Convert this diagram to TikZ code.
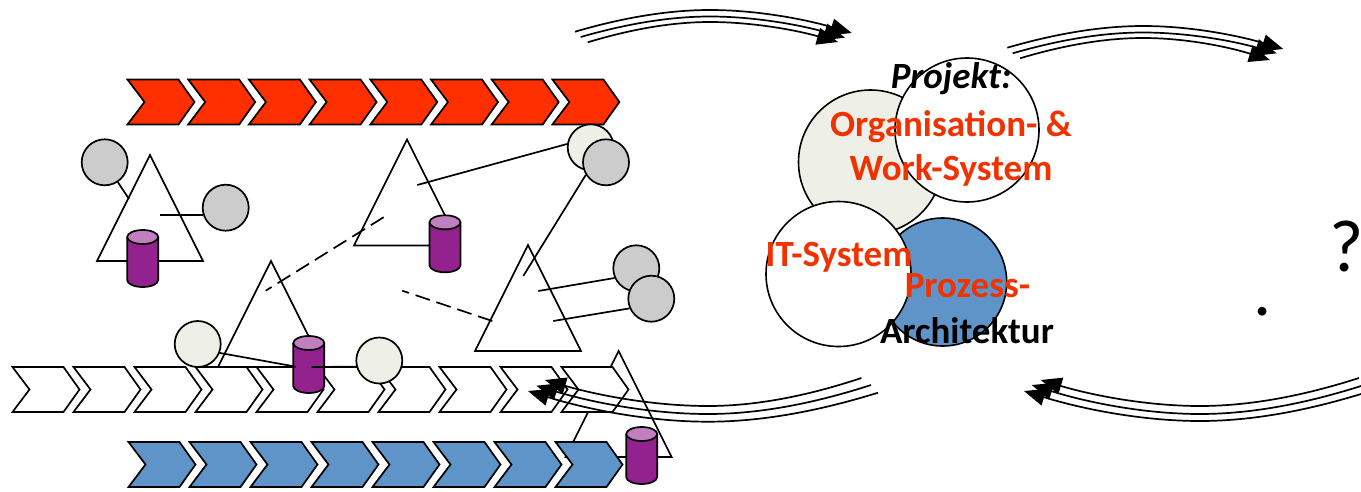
\documentclass[tikz,border=0pt]{standalone}
\usepackage{fontspec}
\setmainfont[Ligatures=Common]{Carlito}
\usetikzlibrary{calc,arrows.meta}
\definecolor{cRed}{HTML}{FF2F00}
\definecolor{cTxt}{HTML}{F03200}
\definecolor{cBlue}{HTML}{5F94C8}
\definecolor{cBeige}{HTML}{EEEFE6}
\definecolor{cGrey}{HTML}{CCCCCC}
\definecolor{cPurple}{HTML}{93218E}
\definecolor{cPurpleTop}{HTML}{C080C0}
\tikzset{
  lw/.style={line width=1.7pt},
  chev/.style={lw,draw=black,miter limit=10},
  tri/.style={lw,draw=black,line join=miter},
  conn/.style={lw,draw=black},
  dashconn/.style={lw,draw=black,dash pattern=on 15pt off 7pt,dash phase=8pt},
  small/.style={circle,lw,draw=black,inner sep=0pt,minimum size=46pt},
  big/.style={circle,line width=1.6pt,draw=black,inner sep=0pt},
  flow/.style={line width=1.7pt,draw=black,-{Triangle[length=21pt,width=17pt]}},
  bold/.style={font=\bfseries\fontsize{37}{40}\selectfont,inner sep=0pt,anchor=base},
}
\newcommand{\trishape}[2]{\draw[tri] (#1,#2) -- ++(-53,106) -- ++(106,0) -- cycle;}
\newcommand{\canshape}[3]{% name, centre x, top y
  \coordinate (#1) at (#2,#3);
  \draw[lw,fill=cPurple] ($(#1)+(-15.5,7)$) -- ++(0,43)
    arc[start angle=180,end angle=360,x radius=15.5pt,y radius=7pt] -- ++(0,-43);
  \draw[lw,fill=cPurpleTop] ($(#1)+(0,7)$) ellipse [x radius=15.5pt,y radius=7pt];}
\newcommand{\chevrow}[5]{% x0, y, pitch, count-1, fill
  \foreach \i in {0,...,#4}{
    \draw[chev,fill=#5] ({#1+\i*#3},#2) -- ++(51,0) -- ++(16,22.5) -- ++(-16,22.5)
      -- ++(-51,0) -- ++(17,-22.5) -- cycle;
  }}
\newcommand{\flowline}[4]{%
  \coordinate (#1s) at (#2);\coordinate (#1m) at (#3);\coordinate (#1e) at (#4);
  \draw[flow] (#1s) .. controls ($.4*(#1s)+.33*(#1m)+.27*(#1s|-#1m)$) and ($(#1m)!.33!(#1s|-#1m)$) .. (#1m)
    .. controls ($(#1m)!.33!(#1e|-#1m)$) and ($.4*(#1e)+.33*(#1m)+.27*(#1e|-#1m)$) .. (#1e);}
\begin{document}
\begin{tikzpicture}[x=1pt,y=-1pt]
\useasboundingbox (0,0) rectangle (1361,491);
% triangles
\trishape{150}{155}
\trishape{407}{139.5}
\trishape{271}{261}
\trishape{528}{245}
\trishape{618.6}{351}
% chevron rows
\chevrow{12.5}{367}{61}{9}{white}
\chevrow{128.5}{442}{61}{7}{cBlue}
\chevrow{127.5}{79.5}{60.7}{7}{cRed}
% cans
\canshape{can1}{142.7}{230}
\canshape{can2}{445}{215.3}
\canshape{can3}{308.8}{336}
\canshape{can4}{641.7}{427}
% small circles
\node[small,fill=cGrey] (g1) at (104.7,162.3) {};
\node[small,fill=cGrey] (g2) at (225.7,207.7) {};
\node[small,fill=cBeige] (b3) at (590.7,147.3) {};
\node[small,fill=cGrey] (g4) at (606,162.3) {};
\node[small,fill=cGrey] (g5) at (636.3,268.3) {};
\node[small,fill=cGrey] (g6) at (651.3,298.7) {};
\node[small,fill=cBeige] (b7) at (197.7,344) {};
\node[small,fill=cBeige] (b8) at (379.3,360.5) {};
% free ends
\coordinate (e1) at (129,199);
\coordinate (e2) at (160,215);
\coordinate (e3) at (417.3,185);
\coordinate (e4) at (523.3,276);
\coordinate (e5) at (538.3,291);
\coordinate (e6) at (553.3,321);
\coordinate (e7) at (296,366.7);
\coordinate (e8) at (311.7,367);
\coordinate (d1a) at (265.7,290.7);
\coordinate (d1b) at (386.7,215.3);
\coordinate (d2a) at (402.3,290.7);
\coordinate (d2b) at (492.3,321);
% connectors
\draw[conn] (g1) -- (e1);
\draw[conn] (e2) -- (g2.198);
\draw[conn] (e3) -- (b3.172);
\draw[conn] (e4) -- (g4.212);
\draw[conn] (e5) -- (g5.204);
\draw[conn] (e6) -- (g6.204);
\draw[conn] (b7.-22) -- (e7);
\draw[conn] (e8) -- (b8.195);
\draw[dashconn] (d1a) -- (d1b);
\draw[dashconn] (d2a) -- (d2b);
% big circles
\node[big,fill=cBeige,minimum size=144pt] (orga) at (870.5,162) {};
\node[big,fill=white,minimum size=144pt] (work) at (967,130) {};
\node[big,fill=cBlue,minimum size=128pt] (proz) at (942.7,282) {};
\node[big,fill=white,minimum size=145pt] (itsy) at (838.5,274) {};
% flow arrows
\flowline{a}{575,31.7}{710,10}{851.7,33}
\flowline{b}{580.7,37}{710,16.5}{845,37.7}
\flowline{c}{587.7,42.3}{710,22}{838,42}
\flowline{d}{1007.3,47.7}{1143.3,26}{1283.3,49}
\flowline{f}{1012.7,53.3}{1143.3,32.5}{1276.7,53.3}
\flowline{g}{1020,58.3}{1143.3,38}{1270,60}
\flowline{h}{861.4,378}{708,406}{545,380}
\flowline{i}{871,385}{708,414}{536.4,385.7}
\flowline{j}{878,392.7}{708,421.7}{528,391}
\flowline{k}{1359,378}{1200,406}{1040.7,380}
\flowline{l}{1361,386}{1200,414}{1031.7,385}
\flowline{m}{1361,394}{1200,421}{1024,391}
% labels
\node[bold,font=\bfseries\itshape\fontsize{37}{40}\selectfont,text=black] (tp) at (951,88) {Projekt:};
\node[bold,text=cTxt] (t1) at (951,136) {Organisation- \&};
\node[bold,text=cTxt] (t2) at (951,180) {Work-System};
\node[bold,text=cTxt] (t3) at (839,266) {IT-System};
\node[bold,text=cTxt] (t4) at (967.5,297.5) {Prozess-};
\node[bold,text=black] (t5) at (967,343) {Architektur};
\node[inner sep=0pt,anchor=base,font=\fontsize{74}{76}\selectfont] (q) at (1346.5,271) {?};
\node[inner sep=0pt,anchor=base,font=\fontsize{72}{74}\selectfont] (dot) at (1263,315) {.};
\end{tikzpicture}
\end{document}
